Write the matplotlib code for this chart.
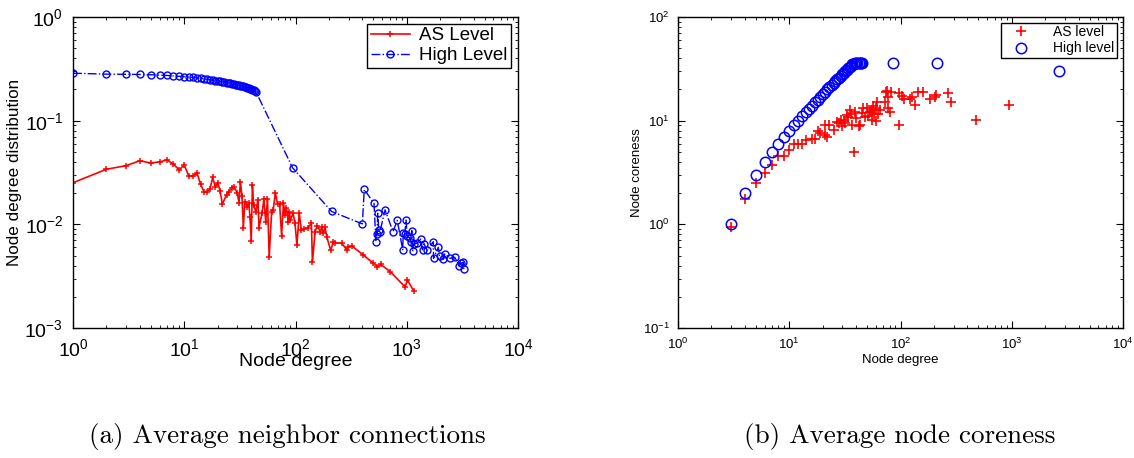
import matplotlib
matplotlib.use("Agg")
import matplotlib.pyplot as plt

plt.rcParams['font.family'] = ['Liberation Sans', 'DejaVu Sans']
plt.rcParams['mathtext.fontset'] = 'custom'
plt.rcParams['mathtext.rm'] = 'Liberation Sans'
plt.rcParams['mathtext.it'] = 'Liberation Sans:italic'
plt.rcParams['mathtext.bf'] = 'Liberation Sans:bold'

# ---------------- (a) Average neighbor connections ----------------
as_deg = [1, 2, 3, 4, 5, 6, 7, 8, 9, 10, 11, 12, 13, 14, 15, 16, 17, 18, 19, 20,
          21, 22, 24, 25, 27, 28, 30, 31, 32, 33, 34, 35, 37, 38, 39, 40, 41, 42,
          44, 46, 47, 50, 52, 54, 56, 58, 61, 63, 66, 69, 72, 75, 78, 80, 83, 86,
          88, 90, 95, 99, 103, 108, 113, 119, 129, 139, 142, 150, 157, 167, 172,
          178, 184, 191, 207, 219, 226, 260, 288, 298, 320, 404, 501, 544, 584,
          710, 967, 1015, 1150]
as_dist = [0.0252, 0.034, 0.0368, 0.0411, 0.039, 0.040, 0.0418, 0.038, 0.0335,
           0.0374, 0.0292, 0.0292, 0.0314, 0.0245, 0.0207, 0.0207, 0.0218, 0.0283,
           0.0230, 0.0252, 0.0211, 0.0157, 0.0192, 0.0207, 0.0223, 0.0230, 0.0200,
           0.0162, 0.0258, 0.0187, 0.0093, 0.0165, 0.0148, 0.0159, 0.0118, 0.0069,
           0.0240, 0.0153, 0.0132, 0.0173, 0.0093, 0.0128, 0.0175, 0.0106, 0.0175,
           0.0048, 0.0132, 0.0138, 0.0200, 0.0157, 0.0157, 0.0078, 0.0162, 0.0123,
           0.0143, 0.0106, 0.0132, 0.0110, 0.0128, 0.0102, 0.0063, 0.0128, 0.0088,
           0.0090, 0.0093, 0.0102, 0.0043, 0.0085, 0.0097, 0.0085, 0.0094, 0.0082,
           0.0094, 0.0076, 0.0056, 0.0068, 0.0066, 0.0066, 0.0057, 0.0060, 0.0062,
           0.0051, 0.0042, 0.0039, 0.0041, 0.0035, 0.00249, 0.0029, 0.0023]

high_deg = [1, 2, 3, 4, 5, 6, 7, 8, 9, 10, 11, 12, 13, 14, 15, 16, 17, 18, 19, 20,
            21, 22, 23, 24, 25, 26, 27, 28, 29, 30, 31, 32, 33, 34, 35, 36, 37, 38,
            39, 40, 41, 42, 43, 44,
            94, 211, 399, 415, 508, 528, 540, 549, 560, 575, 638, 752, 822, 919,
            930, 960, 985, 1010, 1060, 1090, 1110, 1130, 1150, 1240, 1334, 1390,
            1430, 1520, 1733, 1740, 1923, 1970, 2130, 2200, 2447, 2700, 2966, 3050,
            3224, 3260]
high_dist = [0.287, 0.281, 0.280, 0.279, 0.277, 0.275, 0.273, 0.270, 0.268, 0.266,
             0.263, 0.261, 0.258, 0.256, 0.253, 0.251, 0.248, 0.246, 0.243, 0.241,
             0.239, 0.237, 0.235, 0.233, 0.231, 0.229, 0.227, 0.225, 0.223, 0.221,
             0.219, 0.217, 0.216, 0.214, 0.212, 0.210, 0.208, 0.206, 0.204, 0.201,
             0.199, 0.196, 0.194, 0.191,
             0.0352, 0.0133, 0.0101, 0.0217, 0.0159, 0.0068, 0.0080, 0.0128, 0.0088,
             0.0085, 0.0138, 0.0085, 0.0109, 0.0057, 0.0082, 0.0080, 0.0110, 0.0077,
             0.0074, 0.0068, 0.0087, 0.0055, 0.0064, 0.0066, 0.0072, 0.0056, 0.0065,
             0.0056, 0.0068, 0.0047, 0.0060, 0.0049, 0.0046, 0.0052, 0.0047, 0.0048,
             0.0040, 0.0042, 0.0043, 0.0037]

# ---------------- (b) Average node coreness ----------------
as_core_deg = [3, 4, 5, 6, 7, 8, 9, 10, 11, 12, 13, 14, 16, 17, 18, 19, 21, 22, 21,
               23, 25, 27, 28, 29, 30, 31, 32, 33, 34, 35, 36, 37, 38, 39, 40, 42, 43,
               45, 46, 48, 50, 51, 53, 55, 55, 57, 58, 60, 60, 61, 63, 65, 73, 74,
               75, 78, 78, 80, 83, 97, 97, 103, 107, 122, 126, 135, 144, 160, 184,
               204, 207, 268, 283, 475, 945]
as_coreness = [0.94, 1.75, 2.5, 3.1, 3.7, 4.57, 4.6, 5.2, 5.9, 5.9, 6.0, 6.5, 6.6,
               6.6, 7.95, 7.6, 7.3, 6.9, 9.1, 9.1, 8.1, 9.8, 9.5, 10.2, 8.9, 10.0,
               9.4, 11.3, 10.8, 12.7, 11.5, 9.1, 5.0, 12.2, 10.5, 8.9, 9.0, 11.8,
               13.2, 10.8, 13.2, 11.0, 12.0, 12.7, 10.2, 14.0, 11.5, 13.2, 10.0,
               15.2, 11.6, 12.7, 15.2, 19.1, 19.5, 13.2, 17.0, 12.2, 19.1, 18.4, 9.1,
               17.3, 16.1, 16.2, 17.0, 14.2, 19.1, 19.1, 16.1, 17.0, 17.6, 18.4,
               15.0, 10.2, 14.2]

high_core_deg = [3, 4, 5, 6, 7, 8, 9, 10, 11, 12, 13, 14, 15, 16, 17, 18, 19, 20,
                 21, 22, 23, 24, 25, 26, 27, 28, 29, 30, 31, 32, 33, 34, 35, 36, 37,
                 38, 39, 40, 41, 42, 43, 44, 45, 86, 211, 2660]
high_coreness = [1, 2, 3, 4, 5, 6, 7, 8, 9, 10, 11, 12, 13, 14, 15, 16, 17, 18, 19,
                 20, 21, 22, 23, 24, 25, 26, 27, 28, 29, 30, 31, 32, 33, 34, 35, 35.5,
                 35.8, 36, 36, 36, 36, 36, 36, 36, 36, 30.3]

W, H = 1134, 458
fig = plt.figure(figsize=(W / 100, H / 100), dpi=100)

def px_axes(l, t, r, b):
    return fig.add_axes([l / W, 1 - b / H, (r - l) / W, (b - t) / H])

def style(ax, fs, pad):
    ax.set_xscale('log')
    ax.set_yscale('log')
    ax.tick_params(which='both', direction='in', top=True, right=True,
                   labelsize=fs, pad=pad)
    ax.tick_params(which='major', length=5, width=0.8)
    ax.tick_params(which='minor', length=2.5, width=0.6)
    for s in ax.spines.values():
        s.set_linewidth(1.0)

ax1 = px_axes(73, 17, 518, 328)
style(ax1, 14, 7)
ax1.plot(as_deg, as_dist, color='red', linestyle='-', linewidth=1.2,
         marker='+', markersize=5, markeredgewidth=1.1, label='AS Level')
ax1.plot(high_deg, high_dist, color='blue', linestyle='-.', linewidth=1.0,
         marker='o', markersize=5, markerfacecolor='none', markeredgewidth=1.0,
         label='High Level')
ax1.set_xlim(1, 1e4)
ax1.set_ylim(1e-3, 1)
ax1.set_xlabel('Node degree', fontsize=14, labelpad=-5)
ax1.set_ylabel('Node degree distribution', fontsize=12.3, labelpad=1.5)
leg1 = ax1.legend(loc='upper right', fontsize=13.5, fancybox=False,
                  edgecolor='black', framealpha=1, handlelength=2.1,
                  borderaxespad=0.35, borderpad=0.2, labelspacing=0.15,
                  handletextpad=0.5)
leg1.get_frame().set_linewidth(1.0)

ax2 = px_axes(678, 17, 1123, 328)
style(ax2, 9.5, 6)
ax2.plot(as_core_deg, as_coreness, linestyle='none', color='red', marker='+',
         markersize=7.5, markeredgewidth=1.2, label='AS level')
ax2.plot(high_core_deg, high_coreness, linestyle='none', color='blue', marker='o',
         markersize=7.5, markerfacecolor='none', markeredgewidth=1.1,
         label='High level')
ax2.set_xlim(1, 1e4)
ax2.set_ylim(0.1, 100)
ax2.set_xlabel('Node degree', fontsize=9.5, labelpad=2)
ax2.set_ylabel('Node coreness', fontsize=9.5, labelpad=0)
leg2 = ax2.legend(loc='upper right', fontsize=10, fancybox=False,
                  edgecolor='black', framealpha=1, handlelength=2.6,
                  borderaxespad=0.4, borderpad=0.2, labelspacing=0.15,
                  handletextpad=1.0)
leg2.get_frame().set_linewidth(1.0)

fig.text(287 / W, 1 - 436 / H, '(a) Average neighbor connections',
         fontfamily='cmr10', fontsize=19.5, ha='center', va='center')
fig.text(900 / W, 1 - 436 / H, '(b) Average node coreness',
         fontfamily='cmr10', fontsize=19.5, ha='center', va='center')

fig.savefig('out.png', dpi=100)
